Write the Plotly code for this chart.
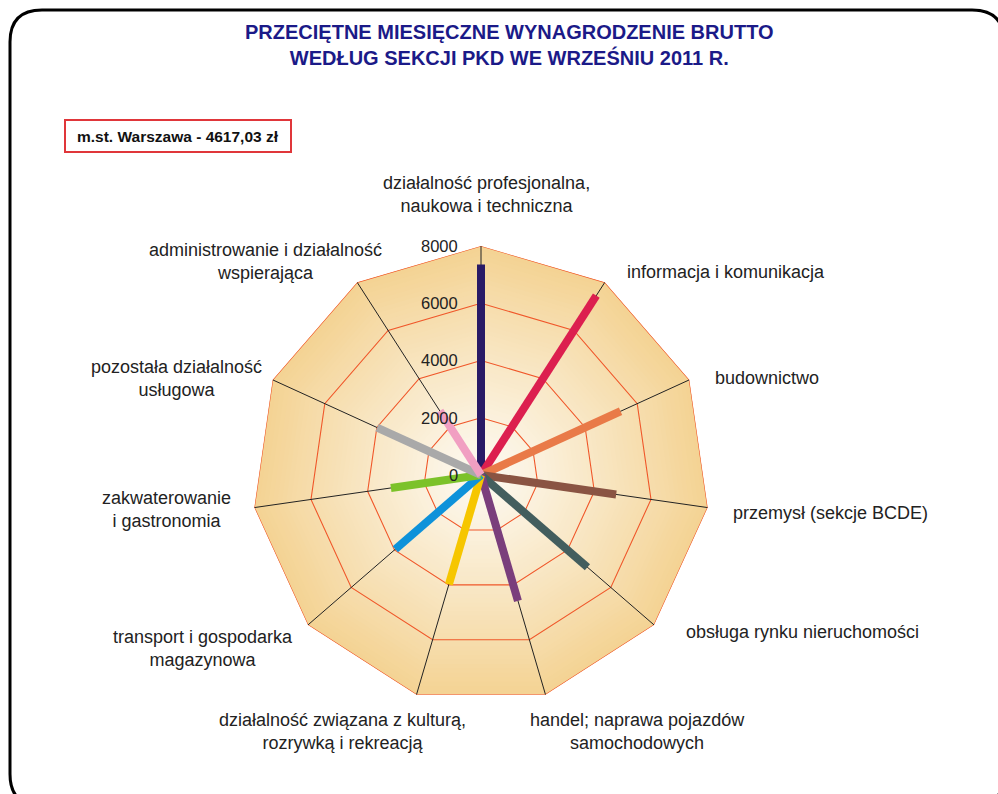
import plotly.graph_objects as go

# ---------------- data ----------------
categories = [
    "działalność profesjonalna, naukowa i techniczna",
    "informacja i komunikacja",
    "budownictwo",
    "przemysł (sekcje BCDE)",
    "obsługa rynku nieruchomości",
    "handel; naprawa pojazdów samochodowych",
    "działalność związana z kulturą, rozrywką i rekreacją",
    "transport i gospodarka magazynowa",
    "zakwaterowanie i gastronomia",
    "pozostała działalność usługowa",
    "administrowanie i działalność wspierająca",
]
category_labels = [
    "działalność profesjonalna,<br>naukowa i techniczna",
    "informacja i komunikacja",
    "budownictwo",
    "przemysł (sekcje BCDE)",
    "obsługa rynku nieruchomości",
    "handel; naprawa pojazdów<br>samochodowych",
    "działalność związana z kulturą,<br>rozrywką i rekreacją",
    "transport i gospodarka<br>magazynowa",
    "zakwaterowanie<br>i gastronomia",
    "pozostała działalność<br>usługowa",
    "administrowanie i działalność<br>wspierająca",
]
wages = [7350, 7450, 5360, 4770, 4920, 4580, 3980, 3960, 3180, 3990, 2660]
spoke_colors = ["#291a66", "#dc1f4f", "#e97a48", "#8a5443", "#435e5e", "#7a3e7c",
                "#f6c600", "#0e92da", "#7cc22a", "#a9a9a9", "#f19fc2"]
tick_vals = [0, 2000, 4000, 6000, 8000]
tick_text = ["0", "2000", "4000", "6000", "8000"]
r_max = 8000
title_text = "PRZECIĘTNE MIESIĘCZNE WYNAGRODZENIE BRUTTO<br>WEDŁUG SEKCJI PKD WE WRZEŚNIU 2011 R."
region_text = "m.st. Warszawa - 4617,03 zł"

# ---------------- layout helpers ----------------
W, H = 998, 794
def px(x): return x / W
def py(y): return 1 - y / H

CX, CY, R = 481, 475, 229
FONT = "Liberation Sans, Arial, sans-serif"

fig = go.Figure()

# background radial gradient (styling)
c_in = (253, 250, 243)
c_out = (244, 211, 148)
N = 50
for k in range(N, 0, -1):
    t = k / N
    col = tuple(int(round(c_in[i] + (c_out[i] - c_in[i]) * t ** 1.1)) for i in range(3))
    rr = r_max * t
    fig.add_trace(go.Scatterpolar(
        r=[rr] * len(categories) + [rr], theta=categories + [categories[0]],
        mode="lines", fill="toself", fillcolor="rgb(%d,%d,%d)" % col,
        line=dict(width=0), hoverinfo="skip", showlegend=False))

# ring grid
for tv in tick_vals[1:]:
    fig.add_trace(go.Scatterpolar(
        r=[tv] * len(categories) + [tv], theta=categories + [categories[0]],
        mode="lines", line=dict(color="#f0572a", width=1.1),
        hoverinfo="skip", showlegend=False))

# spokes
sr, st = [], []
for c in categories:
    sr += [0, r_max, None]
    st += [c, c, None]
fig.add_trace(go.Scatterpolar(r=sr, theta=st, mode="lines",
                              line=dict(color="#222222", width=1),
                              hoverinfo="skip", showlegend=False, connectgaps=False))

# data bars
for c, v, col in zip(categories, wages, spoke_colors):
    fig.add_trace(go.Scatterpolar(r=[0, v], theta=[c, c], mode="lines",
                                  line=dict(color=col, width=8),
                                  name=c, showlegend=False))

# centre knob
fig.add_trace(go.Scatterpolar(r=[0], theta=[categories[0]], mode="markers",
                              marker=dict(size=15, color="#e6c07e",
                                          gradient=dict(type="radial", color="#fffdf6"),
                                          line=dict(width=0.5, color="#d8b06a")),
                              hoverinfo="skip", showlegend=False))

fig.update_layout(
    width=W, height=H,
    margin=dict(l=0, r=0, t=0, b=0),
    paper_bgcolor="white",
    showlegend=False,
    font=dict(family=FONT, size=15, color="#222222"),
    polar=dict(
        domain=dict(x=[px(CX - R), px(CX + R)], y=[py(CY + R), py(CY - R)]),
        bgcolor="rgba(0,0,0,0)",
        gridshape="linear",
        radialaxis=dict(range=[0, r_max], tickvals=tick_vals, showticklabels=False,
                        angle=90, showgrid=False, showline=False, ticks=""),
        angularaxis=dict(type="category", categoryarray=categories,
                         rotation=90, direction="clockwise",
                         showgrid=False, showline=False, showticklabels=False, ticks=""),
    ),
)

# radial tick labels (positioned from the radial scale)
for tv, tt in zip(tick_vals, tick_text):
    fig.add_annotation(x=px(CX - 21), y=py(CY - tv / r_max * R), xref="paper", yref="paper",
                       text=tt, showarrow=False, xanchor="right", yanchor="middle",
                       font=dict(size=16.5, color="#222222", family=FONT))

# category labels
label_pos = [(486, 194), (726, 272), (767, 378), (830, 513), (802, 632),
             (637, 731), (342, 731), (203, 648), (166, 509), (176, 378), (265, 261)]
for txt, (x, y) in zip(category_labels, label_pos):
    fig.add_annotation(x=px(x), y=py(y), xref="paper", yref="paper", text=txt,
                       showarrow=False, xanchor="center", yanchor="middle",
                       font=dict(size=18, color="#222222", family=FONT))

# title
fig.add_annotation(x=px(509), y=py(45), xref="paper", yref="paper",
                   text="<b>" + title_text.replace("<br>", "</b><br><b>") + "</b>",
                   showarrow=False, xanchor="center", yanchor="middle",
                   font=dict(size=20, color="#1b1a88", family=FONT))

# region box
fig.add_shape(type="rect", xref="paper", yref="paper",
              x0=px(65), x1=px(291), y0=py(152), y1=py(120),
              line=dict(color="#e0363a", width=2), fillcolor="white")
fig.add_annotation(x=px(178), y=py(136), xref="paper", yref="paper", text="<b>" + region_text + "</b>",
                   showarrow=False, xanchor="center", yanchor="middle",
                   font=dict(size=15.5, color="#111111", family=FONT))

# rounded outer frame
x0, y0, x1, y1, rad = 10, 10, 1004, 806, 32
path = (f"M {px(x0 + rad)} {py(y0)} L {px(x1 - rad)} {py(y0)} "
        f"Q {px(x1)} {py(y0)} {px(x1)} {py(y0 + rad)} "
        f"L {px(x1)} {py(y1 - rad)} Q {px(x1)} {py(y1)} {px(x1 - rad)} {py(y1)} "
        f"L {px(x0 + rad)} {py(y1)} Q {px(x0)} {py(y1)} {px(x0)} {py(y1 - rad)} "
        f"L {px(x0)} {py(y0 + rad)} Q {px(x0)} {py(y0)} {px(x0 + rad)} {py(y0)} Z")
fig.add_shape(type="path", path=path, xref="paper", yref="paper",
              line=dict(color="black", width=3))

fig.write_html("out.html", config={"displayModeBar": False},
               post_script="document.body.style.margin='0';")
